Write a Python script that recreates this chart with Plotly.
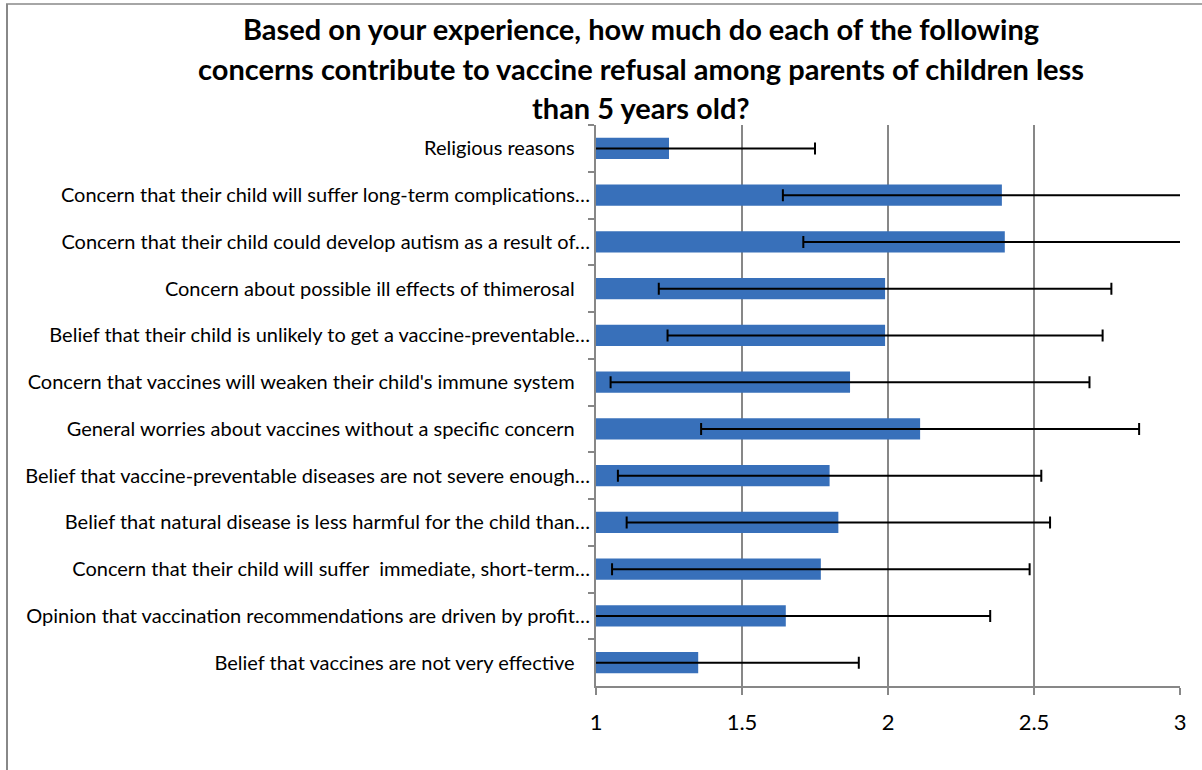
import plotly.graph_objects as go

SP = "\u00a0" * 3
categories = [
    "Religious reasons" + SP,
    "Concern that their child will suffer long-term complications\u2026",
    "Concern that their child could develop autism as a result of\u2026",
    "Concern about possible ill effects of thimerosal" + SP,
    "Belief that their child is unlikely to get a vaccine-preventable\u2026",
    "Concern that vaccines will weaken their child's immune system" + SP,
    "General worries about vaccines without a specific concern" + SP,
    "Belief that vaccine-preventable diseases are not severe enough\u2026",
    "Belief that natural disease is less harmful for the child than\u2026",
    "Concern that their child will suffer\u00a0 immediate, short-term\u2026",
    "Opinion that vaccination recommendations are driven by profit\u2026",
    "Belief that vaccines are not very effective" + SP,
]
means = [1.25, 2.39, 2.40, 1.99, 1.99, 1.87, 2.11, 1.80, 1.83, 1.77, 1.65, 1.35]
errors = [0.50, 0.75, 0.69, 0.775, 0.745, 0.82, 0.75, 0.725, 0.725, 0.715, 0.70, 0.55]
x_ticks = [1, 1.5, 2, 2.5, 3]

title_lines = [
    "Based on your experience, how much do each of the following",
    "concerns contribute to vaccine refusal among parents of children less",
    "than 5 years old?",
]

FONT = "Lato, 'Open Sans', sans-serif"

fig = go.Figure()
fig.add_trace(go.Bar(
    y=categories, x=means, orientation="h",
    marker=dict(color="#3870BA", line=dict(width=0)),
    width=0.45,
    error_x=dict(type="data", array=errors, visible=True, color="black",
                 thickness=2, width=6),
    showlegend=False,
))

W, H = 1202, 770
L, R, T, B = 596, 22, 125, 84
pw, ph = W - L - R, H - T - B

def px_x(px):
    return (px - L) / pw

def px_y(py):
    return (H - B - py) / ph

annotations = []
for line, yc in zip(title_lines, [29, 69, 107]):
    annotations.append(dict(
        text="<b>" + line + "</b>", xref="paper", yref="paper",
        x=px_x(641), y=px_y(yc), xanchor="center", yanchor="middle",
        showarrow=False, font=dict(size=29, family=FONT, color="black"),
    ))

fig.update_layout(
    width=W, height=H,
    margin=dict(l=L, r=R, t=T, b=B, autoexpand=False),
    paper_bgcolor="white", plot_bgcolor="white",
    font=dict(family=FONT, color="black"),
    annotations=annotations,
    xaxis=dict(range=[1, 3], tickvals=x_ticks, ticktext=[str(v) for v in x_ticks],
               showgrid=True, gridcolor="#878787", gridwidth=2,
               showline=True, linecolor="#878787", linewidth=2,
               ticks="outside", ticklen=7, tickcolor="#878787", tickwidth=2,
               ticklabelstandoff=9,
               tickfont=dict(size=22), zeroline=False, fixedrange=True),
    yaxis=dict(categoryorder="array", categoryarray=categories, autorange="reversed",
               showline=True, linecolor="#878787", linewidth=2,
               ticks="outside", ticklen=6, tickcolor="#878787", tickwidth=2,
               tickson="boundaries", tickfont=dict(size=20), showgrid=False,
               fixedrange=True),
    shapes=[
        dict(type="line", xref="paper", yref="paper", x0=px_x(7), x1=px_x(7),
             y0=px_y(790), y1=px_y(4), line=dict(color="#888888", width=2)),
        dict(type="line", xref="paper", yref="paper", x0=px_x(6), x1=px_x(1220),
             y0=px_y(4), y1=px_y(4), line=dict(color="#888888", width=1.5)),
    ],
)

fig.write_html("out.html", config={"displayModeBar": False},
               post_script="document.body.style.margin='0';document.body.style.overflow='hidden';")
